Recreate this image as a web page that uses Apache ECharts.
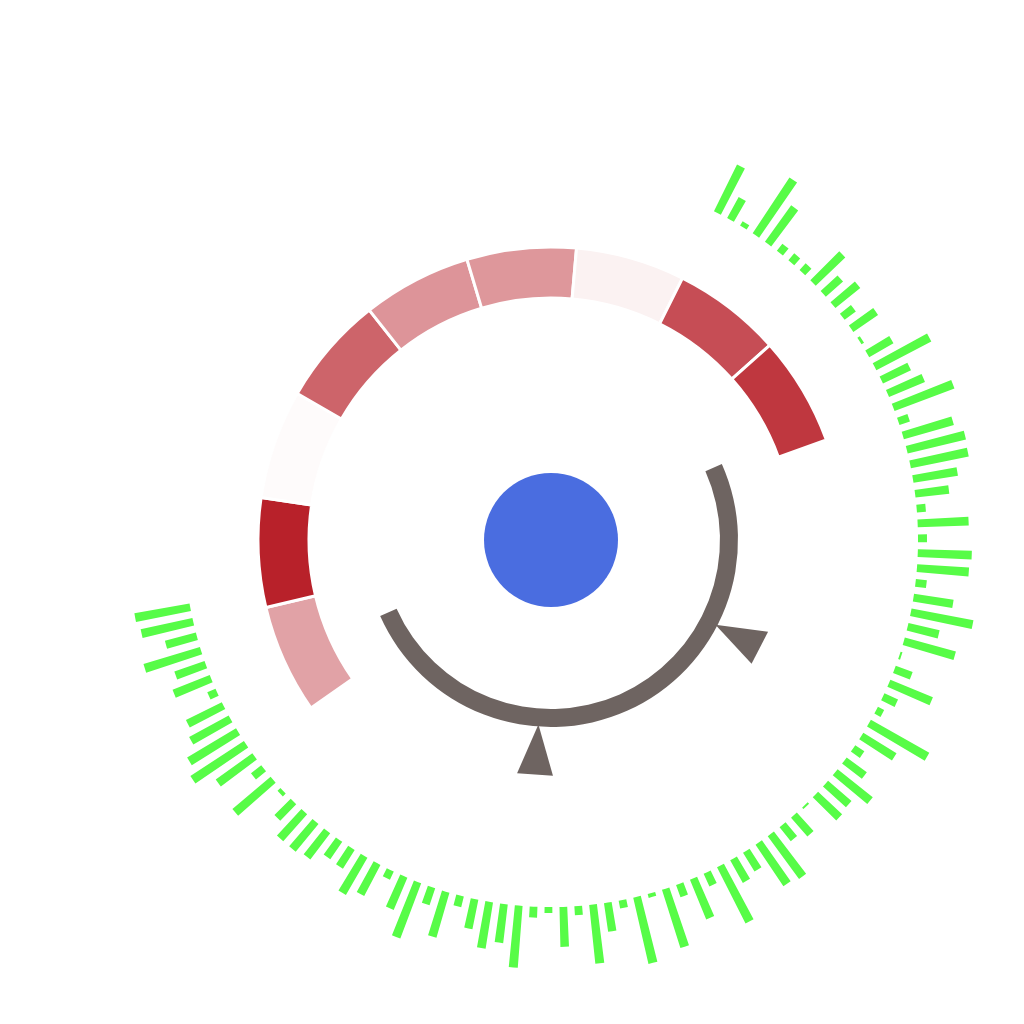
<!DOCTYPE html>
<html>
<head>
<meta charset="utf-8">
<title>circular chart</title>
<script src="https://cdn.jsdelivr.net/npm/echarts@6/dist/echarts.min.js"></script>
<style>
  html, body { margin: 0; padding: 0; background: #fff; }
  #main { width: 1024px; height: 1024px; }
</style>
</head>
<body>
<div id="main"></div>
<script>
// 外圈绿色柱子长度（顺时针，从右上开始）
const greenLengths = [
  52, 24, 5, 67, 45, 9, 9, 9, 41, 23,
  32, 14, 30, 3, 28, 62, 31, 39, 64, 11,
  52, 60, 59, 45, 34, 9, 51, 9, 54, 52,
  11, 40, 63, 32, 53, 2, 18, 46, 15, 7,
  67, 39, 11, 25, 45, 31, 33, 2, 25, 18,
  53, 50, 22, 26, 63, 14, 43, 13, 61, 4,
  68, 8, 29, 59, 9, 40, 6, 11, 62, 39,
  47, 30, 11, 47, 18, 59, 35, 9, 35, 43,
  22, 21, 33, 36, 36, 23, 4, 50, 13, 45,
  64, 57, 45, 40, 9, 40, 32, 59, 32, 53,
  56
];
const greenCategories = greenLengths.map((v, i) => 'b' + (i + 1));

// 红色环形分段的取值（顺时针，从左下开始）
const ringValues = [0.42, 1.0, 0.02, 0.70, 0.48, 0.47, 0.06, 0.80, 0.90];
const ringNames = ['s1', 's2', 's3', 's4', 's5', 's6', 's7', 's8', 's9'];

// 灰色弧上的两个指针
const gaugeValues = [28.5, 65.5];

// 中心圆
const coreValue = [1];

const center = [551, 540];
const ringColors = ['#ffffff', '#b8212a'];
const hidden = { show: false };

var myChart = echarts.init(document.getElementById('main'));

var option = {
  animation: false,
  backgroundColor: '#ffffff',
  polar: {
    center: center,
    radius: [367, 437]
  },
  angleAxis: {
    type: 'category',
    data: greenCategories,
    startAngle: 64.2,
    endAngle: -170.6,
    clockwise: true,
    axisLine: hidden,
    axisTick: hidden,
    axisLabel: hidden,
    splitLine: hidden,
    splitArea: hidden
  },
  radiusAxis: {
    type: 'value',
    min: 0,
    max: 70,
    axisLine: hidden,
    axisTick: hidden,
    axisLabel: hidden,
    splitLine: hidden,
    splitArea: hidden
  },
  series: [
    {
      type: 'bar',
      coordinateSystem: 'polar',
      data: greenLengths,
      barCategoryGap: '48%',
      itemStyle: { color: '#57fc47' },
      silent: true
    },
    {
      type: 'pie',
      center: center,
      radius: [242, 293],
      startAngle: 215,
      endAngle: 20,
      clockwise: true,
      silent: true,
      label: hidden,
      labelLine: hidden,
      itemStyle: { borderColor: '#ffffff', borderWidth: 3 },
      data: ringValues.map((v, i) => ({
        name: ringNames[i],
        value: 1,
        itemStyle: { color: echarts.color.lerp(v, ringColors) }
      }))
    },
    {
      type: 'gauge',
      center: center,
      radius: 187,
      startAngle: 24,
      endAngle: -156,
      min: 0,
      max: 100,
      axisLine: { lineStyle: { width: 18, color: [[1, '#6e6461']] } },
      splitLine: hidden,
      axisTick: hidden,
      axisLabel: hidden,
      anchor: hidden,
      title: hidden,
      detail: hidden,
      pointer: {
        icon: 'path://M0,0 L10,0 L5,10 Z',
        length: 50,
        width: 36,
        offsetCenter: [0, -185],
        itemStyle: { color: '#6e6461' }
      },
      data: gaugeValues.map(v => ({ value: v }))
    },
    {
      type: 'pie',
      center: center,
      radius: [0, 67],
      silent: true,
      label: hidden,
      labelLine: hidden,
      itemStyle: { color: '#4a6de0' },
      data: coreValue
    }
  ]
};

myChart.setOption(option);
</script>
</body>
</html>
